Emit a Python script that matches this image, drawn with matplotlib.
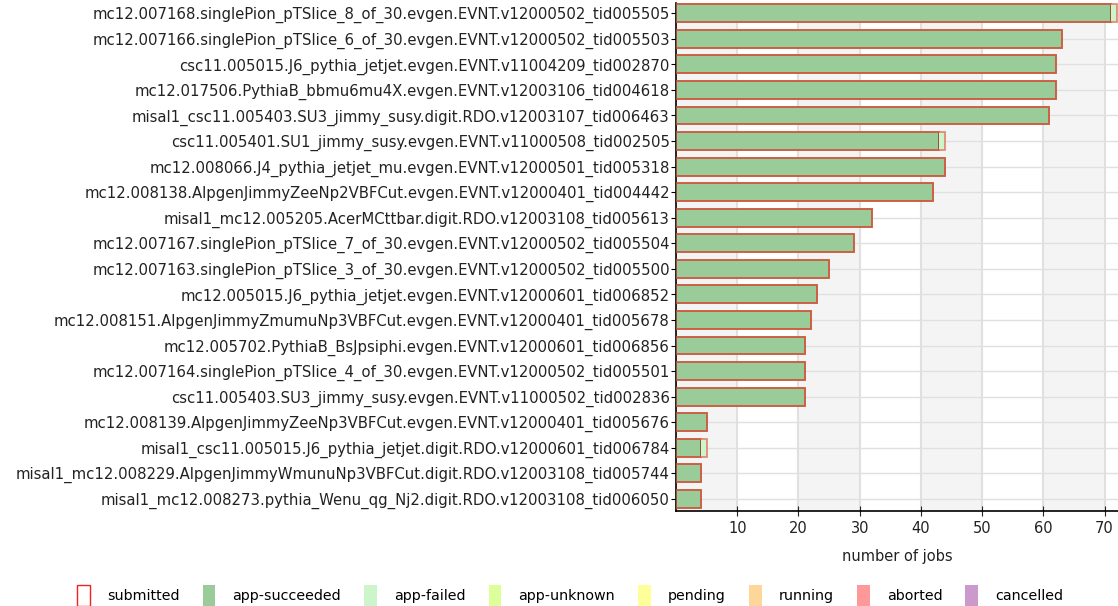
import matplotlib.pyplot as plt
from matplotlib.patches import Patch
import numpy as np

tasks = [
    'mc12.007168.singlePion_pTSlice_8_of_30.evgen.EVNT.v12000502_tid005505',
    'mc12.007166.singlePion_pTSlice_6_of_30.evgen.EVNT.v12000502_tid005503',
    'csc11.005015.J6_pythia_jetjet.evgen.EVNT.v11004209_tid002870',
    'mc12.017506.PythiaB_bbmu6mu4X.evgen.EVNT.v12003106_tid004618',
    'misal1_csc11.005403.SU3_jimmy_susy.digit.RDO.v12003107_tid006463',
    'csc11.005401.SU1_jimmy_susy.evgen.EVNT.v11000508_tid002505',
    'mc12.008066.J4_pythia_jetjet_mu.evgen.EVNT.v12000501_tid005318',
    'mc12.008138.AlpgenJimmyZeeNp2VBFCut.evgen.EVNT.v12000401_tid004442',
    'misal1_mc12.005205.AcerMCttbar.digit.RDO.v12003108_tid005613',
    'mc12.007167.singlePion_pTSlice_7_of_30.evgen.EVNT.v12000502_tid005504',
    'mc12.007163.singlePion_pTSlice_3_of_30.evgen.EVNT.v12000502_tid005500',
    'mc12.005015.J6_pythia_jetjet.evgen.EVNT.v12000601_tid006852',
    'mc12.008151.AlpgenJimmyZmumuNp3VBFCut.evgen.EVNT.v12000401_tid005678',
    'mc12.005702.PythiaB_BsJpsiphi.evgen.EVNT.v12000601_tid006856',
    'mc12.007164.singlePion_pTSlice_4_of_30.evgen.EVNT.v12000502_tid005501',
    'csc11.005403.SU3_jimmy_susy.evgen.EVNT.v11000502_tid002836',
    'mc12.008139.AlpgenJimmyZeeNp3VBFCut.evgen.EVNT.v12000401_tid005676',
    'misal1_csc11.005015.J6_pythia_jetjet.digit.RDO.v12000601_tid006784',
    'misal1_mc12.008229.AlpgenJimmyWmunuNp3VBFCut.digit.RDO.v12003108_tid005744',
    'misal1_mc12.008273.pythia_Wenu_qg_Nj2.digit.RDO.v12003108_tid006050',
]
submitted     = [72, 63, 62, 62, 61, 44, 44, 42, 32, 29, 25, 23, 22, 21, 21, 21, 5, 5, 4, 4]
app_succeeded = [71, 63, 62, 62, 61, 43, 44, 42, 32, 29, 25, 23, 22, 21, 21, 21, 5, 4, 4, 4]
app_failed    = [1, 0, 0, 0, 0, 1, 0, 0, 0, 0, 0, 0, 0, 0, 0, 0, 0, 1, 0, 0]

legend_labels = ['submitted', 'app-succeeded', 'app-failed', 'app-unknown',
                 'pending', 'running', 'aborted', 'cancelled']
legend_colors = ['none', '#99cc99', '#ccf5cc', '#ddff99',
                 '#ffff99', '#ffd699', '#ff9999', '#cc99cc']

fig = plt.figure(figsize=(11.18, 6.06), dpi=100)
ax = fig.add_axes([0.6047, 0.157, 0.3953, 0.838])

y = np.arange(len(tasks))
xmax = 72.2

# alternating background bands
for i, x0 in enumerate(range(0, 80, 10)):
    if i % 2 == 0:
        ax.axvspan(x0, x0 + 10, color='#f4f4f4', zorder=0, lw=0)
for xv in range(10, 80, 10):
    ax.axvline(xv, color='#e0e0e0', lw=1.5, zorder=1)
for yv in y:
    ax.axhline(yv, color='#e0e0e0', lw=1.0, zorder=1)

h = 0.7
ax.barh(y, app_succeeded, height=h, color='#99cc99', edgecolor='#9a3c1c', lw=1.2, zorder=2)
ax.barh(y, app_failed, height=h, left=app_succeeded, color='#ccf5cc', lw=0, zorder=2)
ax.barh(y, submitted, height=h, color='none', edgecolor='#e06a50', lw=1.3, alpha=0.75, zorder=3)

ax.set_xlim(0, xmax)
ax.set_ylim(len(tasks) - 0.53, -0.4)
ax.set_yticks(y)
ax.set_yticklabels(tasks, fontsize=10.7, color='#222222')
ax.set_xticks(range(10, 80, 10))
ax.tick_params(axis='x', labelsize=10.5, colors='#222222', direction='inout', length=7)
ax.tick_params(axis='y', direction='inout', length=7, pad=1)
ax.set_xlabel('number of jobs', fontsize=10.5, color='#222222', labelpad=10)

for s in ['top', 'right']:
    ax.spines[s].set_visible(False)
ax.spines['left'].set_linewidth(1.2)
ax.spines['bottom'].set_linewidth(1.2)

handles = []
for lab, col in zip(legend_labels, legend_colors):
    if col == 'none':
        handles.append(Patch(facecolor='white', edgecolor='#ee2222', lw=1.0, label=lab))
    else:
        handles.append(Patch(facecolor=col, edgecolor='none', label=lab))
fig.legend(handles=handles, loc='lower center', bbox_to_anchor=(0.51, -0.022), ncol=8,
           frameon=False, fontsize=10.3, handlelength=0.9, handleheight=1.9,
           columnspacing=1.6, handletextpad=1.2)

fig.savefig('out.png', dpi=100)
